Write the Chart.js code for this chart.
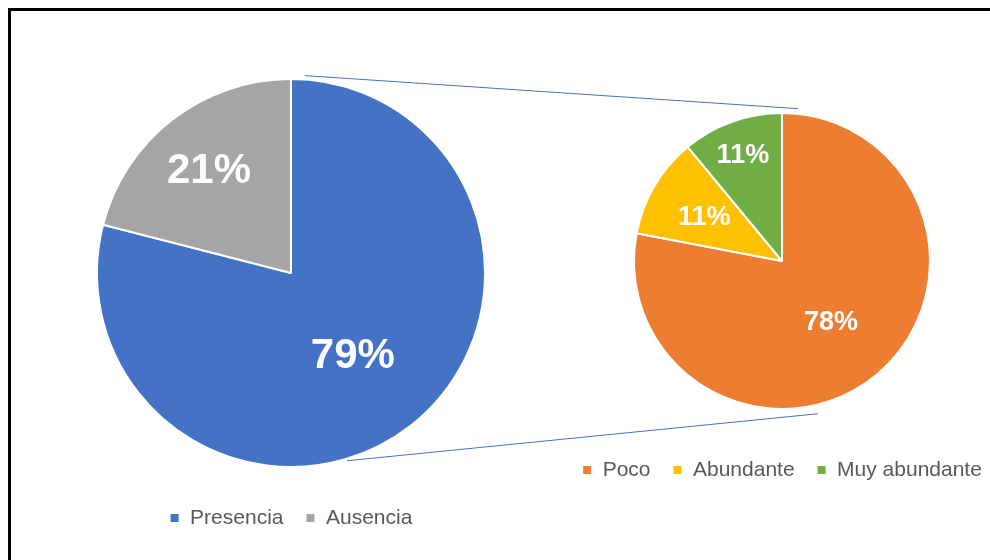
<!DOCTYPE html>
<html>
<head>
<meta charset="utf-8">
<script src="https://cdn.jsdelivr.net/npm/chart.js@4.4.1/dist/chart.umd.min.js"></script>
<style>
  html, body { margin: 0; padding: 0; background: #fff; overflow: hidden; }
  #page { position: relative; width: 990px; height: 560px; overflow: hidden; }
  #frame {
    position: absolute; left: 8px; top: 8px; width: 1100px; height: 700px;
    border: 3px solid #000; box-sizing: border-box;
  }
  canvas { position: absolute; left: 0; top: 0; }
</style>
</head>
<body>
<div id="page">
  <div id="frame"></div>
  <canvas id="mainPie" width="1100" height="560"></canvas>
  <canvas id="subPie" width="1100" height="560"></canvas>
</div>
<script>
/* Pie of pie: presence / absence, then split of presence
 * ------------------------------------------------------ */
'use strict';

var mainLabels = ['Presencia', 'Ausencia'];
var mainValues = [79, 21];
var mainColors = ['#4472C4', '#A5A5A5'];

var subLabels = ['Poco', 'Abundante', 'Muy abundante'];
var subValues = [78, 11, 11];
var subColors = ['#ED7D31', '#FFC000', '#70AD47'];

var legendFont = { family: '"Liberation Sans", Arial, sans-serif', size: 21 };

// white percentage labels inside the slices
var pctLabels = {
  id: 'pctLabels',
  afterDatasetsDraw: function (chart, args, opts) {
    var c = chart.ctx;
    var meta = chart.getDatasetMeta(0);
    var vals = chart.data.datasets[0].data;
    var total = vals.reduce(function (a, b) { return a + b; }, 0);
    c.save();
    c.fillStyle = '#fff';
    c.font = 'bold ' + opts.size + 'px "Liberation Sans", Arial, sans-serif';
    c.textAlign = 'center';
    c.textBaseline = 'middle';
    meta.data.forEach(function (arc, i) {
      var mid = (arc.startAngle + arc.endAngle) / 2;
      var r = arc.outerRadius * opts.dist[i];
      var txt = Math.round(vals[i] / total * 100) + '%';
      c.fillText(txt, arc.x + Math.cos(mid) * r, arc.y + Math.sin(mid) * r + opts.size * 0.1);
    });
    c.restore();
  }
};

function pointOn(arc, deg, k) {
  var a = deg * Math.PI / 180;
  return {
    x: arc.x + Math.sin(a) * arc.outerRadius * k,
    y: arc.y - Math.cos(a) * arc.outerRadius * k
  };
}

var mainChart;

// connector lines between the two pies
var connectors = {
  id: 'connectors',
  afterDraw: function (chart) {
    if (!mainChart) {
      return;
    }
    var a = mainChart.getDatasetMeta(0).data[0];
    var b = chart.getDatasetMeta(0).data[0];
    var c = chart.ctx;
    var p1 = pointOn(a, 4, 1.02), p2 = pointOn(b, 6, 1.035);
    var p3 = pointOn(a, 163.4, 1.01), p4 = pointOn(b, 166.8, 1.06);
    c.save();
    c.strokeStyle = '#4472C4';
    c.lineWidth = 1;
    c.beginPath();
    c.moveTo(p1.x, p1.y); c.lineTo(p2.x, p2.y);
    c.moveTo(p3.x, p3.y); c.lineTo(p4.x, p4.y);
    c.stroke();
    c.restore();
  }
};

function legendOpts(extraTop) {
  return {
    position: 'bottom',
    title: {
      display: extraTop > 0, text: '', font: { size: 10 },
      padding: { top: extraTop, bottom: 0 }
    },
    labels: {
      boxWidth: 10,
      boxHeight: 10,
      padding: 22,
      color: '#595959',
      font: legendFont
    }
  };
}

mainChart = new Chart(document.getElementById('mainPie'), {
  type: 'pie',
  data: {
    labels: mainLabels,
    datasets: [{
      data: mainValues,
      backgroundColor: mainColors,
      borderColor: '#fff',
      borderWidth: 2
    }]
  },
  options: {
    responsive: false,
    animation: false,
    events: [],
    layout: { padding: { left: 96, right: 614, top: 60.5, bottom: 21.5 } },
    plugins: {
      legend: legendOpts(0),
      tooltip: { enabled: false },
      pctLabels: { size: 42, dist: [0.52, 0.69] }
    }
  },
  plugins: [pctLabels]
});

new Chart(document.getElementById('subPie'), {
  type: 'pie',
  data: {
    labels: subLabels,
    datasets: [{
      data: subValues,
      backgroundColor: subColors,
      borderColor: '#fff',
      borderWidth: 2
    }]
  },
  options: {
    responsive: false,
    animation: false,
    events: [],
    layout: { padding: { left: 552, right: 88, top: 112, bottom: 69.5 } },
    plugins: {
      legend: legendOpts(15.5),
      tooltip: { enabled: false },
      pctLabels: { size: 27, dist: [0.52, 0.61, 0.78] }
    }
  },
  plugins: [pctLabels, connectors]
});
</script>
</body>
</html>
